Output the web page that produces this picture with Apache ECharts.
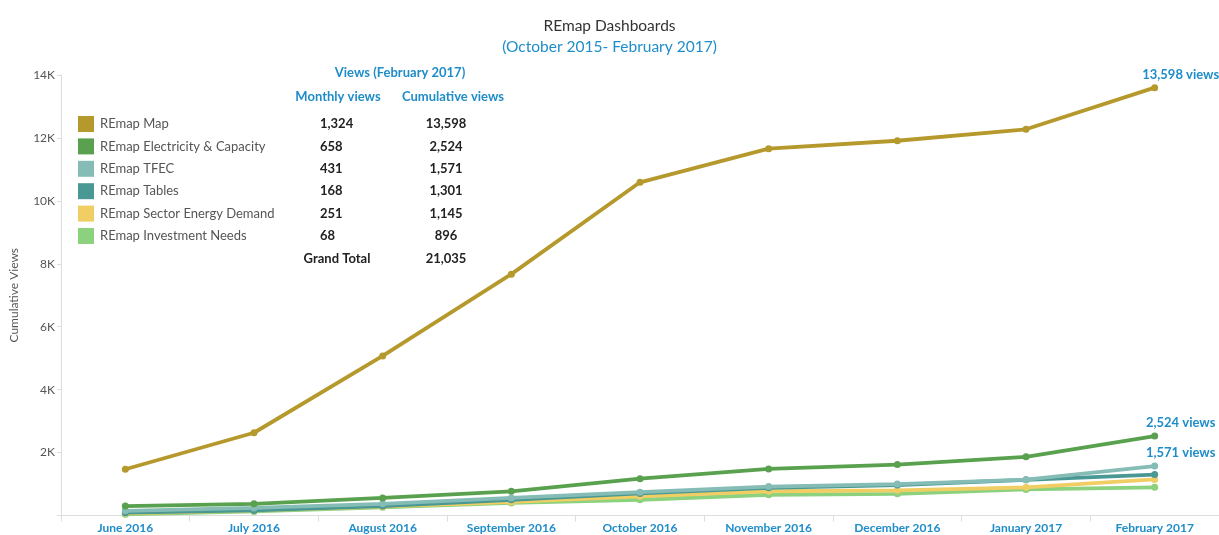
<!DOCTYPE html>
<html>
<head>
<meta charset="utf-8">
<script src="https://cdn.jsdelivr.net/npm/echarts@6/dist/echarts.min.js"></script>
<style>html,body{margin:0;padding:0;background:#fff}#c{width:1219px;height:535px}</style>
</head>
<body>
<div id="c"></div>
<script>
const categories = ['June 2016','July 2016','August 2016','September 2016','October 2016','November 2016','December 2016','January 2017','February 2017'];
const seriesNames = ['REmap Map','REmap Electricity & Capacity','REmap TFEC','REmap Tables','REmap Sector Energy Demand','REmap Investment Needs'];
const mapViews = [1470, 2630, 5070, 7670, 10590, 11660, 11910, 12274, 13598];
const elecViews = [300, 370, 560, 770, 1170, 1480, 1620, 1866, 2524];
const tfecViews = [150, 240, 370, 560, 740, 920, 1000, 1140, 1571];
const tablesViews = [90, 160, 300, 500, 700, 880, 970, 1133, 1301];
const sectorViews = [70, 160, 280, 430, 610, 770, 800, 894, 1145];
const investViews = [40, 130, 260, 400, 500, 660, 690, 828, 896];
const monthlyViews = ['1,324','658','431','168','251','68'];
const cumulativeViews = ['13,598','2,524','1,571','1,301','1,145','896'];
const grandTotal = '21,035';
const yTicks = [0, 2000, 4000, 6000, 8000, 10000, 12000, 14000];

const colors = ['#b6992d','#59a14f','#86bcb6','#499894','#f1ce63','#8cd17d'];
const blue = '#1f8dc9';
const FONT = 'Lato, "Open Sans", sans-serif';
const allData = [mapViews, elecViews, tfecViews, tablesViews, sectorViews, investViews];
const labelled = [true, true, true, false, false, false];

const series = [];
for (let i = allData.length - 1; i >= 0; i--) {
  const data = allData[i].map((v, j) => {
    if (labelled[i] && j === allData[i].length - 1) {
      return {value: v, label: {show: true, position: 'top', offset: [26, 2], formatter: p => p.value.toLocaleString('en-US') + ' views', color: blue, fontWeight: 'bold', fontSize: 13, fontFamily: FONT}};
    }
    return v;
  });
  series.push({
    name: seriesNames[i], type: 'line', data: data,
    symbol: 'circle', symbolSize: 7, showSymbol: true,
    lineStyle: {width: 3.8, color: colors[i]},
    itemStyle: {color: colors[i]},
    z: 10 - i,
    emphasis: {disabled: true}
  });
}

const graphic = [];
const rowY0 = 124, rowStep = 22.4;
const F13 = '13px ' + FONT, B13 = 'bold 13px ' + FONT;
seriesNames.forEach((n, i) => {
  const y = rowY0 + i * rowStep;
  graphic.push({type: 'rect', shape: {x: 78, y: y - 8, width: 16, height: 16}, style: {fill: colors[i]}});
  graphic.push({type: 'text', x: 100, y: y, style: {text: n, fill: '#555', font: F13, textVerticalAlign: 'middle'}});
  graphic.push({type: 'text', x: 320, y: y, style: {text: monthlyViews[i], fill: '#222', font: B13, textVerticalAlign: 'middle'}});
  graphic.push({type: 'text', x: 446, y: y, style: {text: cumulativeViews[i], fill: '#222', font: B13, textAlign: 'center', textVerticalAlign: 'middle'}});
});
const totY = rowY0 + 6 * rowStep;
graphic.push({type: 'text', x: 337, y: totY, style: {text: 'Grand Total', fill: '#222', font: B13, textAlign: 'center', textVerticalAlign: 'middle'}});
graphic.push({type: 'text', x: 446, y: totY, style: {text: grandTotal, fill: '#222', font: B13, textAlign: 'center', textVerticalAlign: 'middle'}});
graphic.push({type: 'text', x: 400, y: 73, style: {text: 'Views (February 2017)', fill: blue, font: B13, textAlign: 'center', textVerticalAlign: 'middle'}});
graphic.push({type: 'text', x: 338, y: 97, style: {text: 'Monthly views', fill: blue, font: B13, textAlign: 'center', textVerticalAlign: 'middle'}});
graphic.push({type: 'text', x: 453, y: 97, style: {text: 'Cumulative views', fill: blue, font: B13, textAlign: 'center', textVerticalAlign: 'middle'}});

const chart = echarts.init(document.getElementById('c'), null, {renderer: 'canvas'});
chart.setOption({
  animation: false,
  backgroundColor: '#fff',
  title: [
    {text: 'REmap Dashboards', left: 'center', top: 13, textStyle: {fontSize: 15.5, fontWeight: 'normal', color: '#333', fontFamily: FONT}},
    {text: '(October 2015- February 2017)', left: 'center', top: 34, textStyle: {fontSize: 15.5, fontWeight: 'normal', color: blue, fontFamily: FONT}}
  ],
  grid: {left: 58, right: 0, top: 75, bottom: 19.5, containLabel: false},
  xAxis: {
    type: 'category', data: categories, boundaryGap: true,
    axisLine: {lineStyle: {color: '#ddd'}},
    axisTick: {show: true, length: 6, lineStyle: {color: '#ddd'}},
    axisLabel: {color: blue, fontWeight: 'bold', fontSize: 12, fontFamily: FONT, margin: 7, interval: 0}
  },
  yAxis: {
    type: 'value', min: 0, max: 14000, interval: 2000,
    name: 'Cumulative Views', nameLocation: 'middle', nameGap: 41, nameRotate: 90,
    nameTextStyle: {color: '#555', fontSize: 12, fontFamily: FONT},
    axisLine: {show: true, lineStyle: {color: '#ddd'}},
    axisTick: {show: true, length: 4, lineStyle: {color: '#ddd'}},
    splitLine: {show: false},
    axisLabel: {color: '#555', fontSize: 12, fontFamily: FONT, margin: 6,
      formatter: v => (v === 0 || yTicks.indexOf(v) < 0) ? '' : (v / 1000) + 'K'}
  },
  graphic: graphic,
  series: series
});
</script>
</body>
</html>
